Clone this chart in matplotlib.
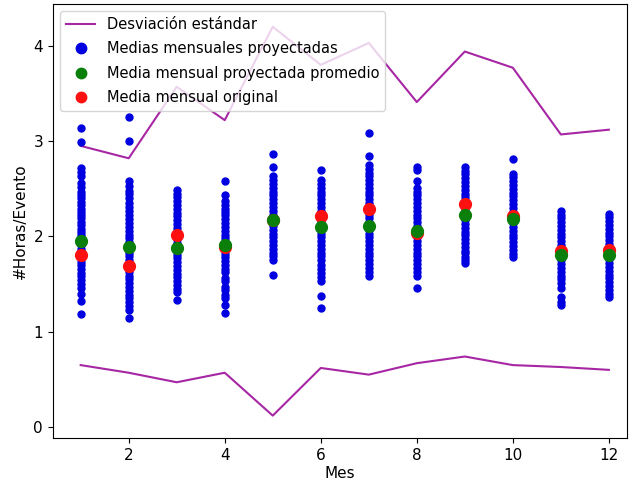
import matplotlib
matplotlib.use('Agg')
import matplotlib.pyplot as plt

meses = list(range(1, 13))

# desviación estándar (banda superior e inferior)
desv_sup = [2.95, 2.82, 3.57, 3.22, 4.20, 3.80, 4.03, 3.41, 3.94, 3.77, 3.07, 3.12]
desv_inf = [0.65, 0.57, 0.47, 0.57, 0.12, 0.62, 0.55, 0.67, 0.74, 0.65, 0.63, 0.60]

media_original = [1.80, 1.69, 2.02, 1.89, 2.17, 2.21, 2.29, 2.04, 2.34, 2.21, 1.85, 1.86]
media_proy_prom = [1.95, 1.89, 1.88, 1.91, 2.17, 2.10, 2.11, 2.06, 2.22, 2.18, 1.80, 1.81]

# medias mensuales proyectadas por cada modelo
proy_ene = [3.14, 2.99, 2.72, 2.68, 2.63, 2.56, 2.52, 2.47, 2.43, 2.40, 2.36, 2.33,
            2.29, 2.26, 2.22, 2.19, 2.15, 2.12, 2.08, 2.05, 2.01, 1.98, 1.94, 1.91,
            1.87, 1.84, 1.80, 1.77, 1.73, 1.70, 1.66, 1.62, 1.58, 1.54, 1.50, 1.46,
            1.40, 1.32, 1.19]
proy_feb = [3.25, 3.00, 2.58, 2.53, 2.48, 2.44, 2.40, 2.35, 2.31, 2.27, 2.22, 2.18,
            2.14, 2.10, 2.06, 2.02, 1.98, 1.94, 1.90, 1.86, 1.83, 1.79, 1.75, 1.71,
            1.67, 1.63, 1.59, 1.55, 1.51, 1.47, 1.43, 1.39, 1.35, 1.31, 1.27, 1.23,
            1.14]
proy_mar = [2.49, 2.45, 2.41, 2.37, 2.33, 2.29, 2.25, 2.21, 2.17, 2.13, 2.09, 2.05,
            2.01, 1.97, 1.93, 1.89, 1.85, 1.81, 1.77, 1.73, 1.69, 1.65, 1.61, 1.57,
            1.53, 1.49, 1.45, 1.42, 1.33]
proy_abr = [2.58, 2.43, 2.37, 2.33, 2.29, 2.26, 2.22, 2.18, 2.14, 2.10, 2.06, 2.02,
            1.98, 1.94, 1.90, 1.86, 1.82, 1.78, 1.74, 1.70, 1.66, 1.63, 1.56, 1.53,
            1.47, 1.44, 1.39, 1.35, 1.28, 1.20]
proy_may = [2.86, 2.73, 2.63, 2.59, 2.55, 2.51, 2.47, 2.43, 2.39, 2.35, 2.31, 2.27,
            2.23, 2.19, 2.15, 2.11, 2.07, 2.03, 1.99, 1.95, 1.91, 1.87, 1.83, 1.79,
            1.75, 1.60]
proy_jun = [2.70, 2.59, 2.55, 2.51, 2.47, 2.43, 2.39, 2.35, 2.31, 2.27, 2.23, 2.19,
            2.15, 2.11, 2.07, 2.03, 1.99, 1.95, 1.91, 1.87, 1.83, 1.79, 1.75, 1.70,
            1.66, 1.62, 1.57, 1.53, 1.37, 1.25]
proy_jul = [3.09, 2.84, 2.75, 2.71, 2.67, 2.63, 2.59, 2.55, 2.51, 2.47, 2.43, 2.39,
            2.35, 2.31, 2.27, 2.23, 2.19, 2.15, 2.11, 2.07, 2.03, 1.99, 1.95, 1.91,
            1.87, 1.83, 1.79, 1.75, 1.71, 1.67, 1.63, 1.59]
proy_ago = [2.73, 2.70, 2.58, 2.51, 2.47, 2.43, 2.39, 2.35, 2.31, 2.27, 2.23, 2.19,
            2.15, 2.11, 2.07, 2.03, 1.99, 1.95, 1.91, 1.87, 1.83, 1.79, 1.75, 1.71,
            1.67, 1.63, 1.58, 1.46]
proy_sep = [2.73, 2.69, 2.65, 2.61, 2.57, 2.53, 2.49, 2.45, 2.41, 2.37, 2.33, 2.29,
            2.25, 2.21, 2.17, 2.13, 2.09, 2.05, 2.01, 1.97, 1.93, 1.89, 1.85, 1.83,
            1.78, 1.75, 1.72]
proy_oct = [2.81, 2.66, 2.62, 2.58, 2.54, 2.50, 2.46, 2.42, 2.38, 2.34, 2.30, 2.26,
            2.22, 2.18, 2.14, 2.10, 2.06, 2.02, 1.98, 1.94, 1.90, 1.86, 1.82, 1.78]
proy_nov = [2.27, 2.23, 2.19, 2.15, 2.11, 2.07, 2.03, 1.99, 1.95, 1.91, 1.87, 1.83,
            1.79, 1.75, 1.71, 1.67, 1.63, 1.59, 1.55, 1.51, 1.46, 1.36, 1.31, 1.28]
proy_dic = [2.24, 2.20, 2.16, 2.12, 2.08, 2.04, 2.00, 1.96, 1.92, 1.88, 1.84, 1.80,
            1.76, 1.72, 1.68, 1.64, 1.60, 1.56, 1.52, 1.48, 1.44, 1.40, 1.36]

proyecciones = [proy_ene, proy_feb, proy_mar, proy_abr, proy_may, proy_jun,
                proy_jul, proy_ago, proy_sep, proy_oct, proy_nov, proy_dic]

color_desv = '#a626a4'

fig = plt.figure(figsize=(6.29, 4.84), dpi=100)
ax = fig.add_axes([0.084, 0.095, 0.913, 0.897])

ax.plot(meses, desv_sup, color=color_desv, lw=1.5, label='Desviación estándar')
ax.plot(meses, desv_inf, color=color_desv, lw=1.5)

xs = []
ys = []
for mes, vals in zip(meses, proyecciones):
    xs += [mes] * len(vals)
    ys += vals
ax.plot(xs, ys, 'o', color='#0000e0', ms=5, ls='none',
        label='Medias mensuales proyectadas', zorder=2)

ax.plot(meses, media_proy_prom, 'o', color='#0a800a', ms=8.5, ls='none',
        label='Media mensual proyectada promedio', zorder=4)
ax.plot(meses, media_original, 'o', color='#ff1010', ms=8.5, ls='none',
        label='Media mensual original', zorder=3)

ax.set_xlim(0.42, 12.38)
ax.set_ylim(-0.115, 4.44)
ax.set_xticks([2, 4, 6, 8, 10, 12])
ax.set_yticks([0, 1, 2, 3, 4])
ax.tick_params(labelsize=11)
ax.set_xlabel('Mes', fontsize=11, labelpad=2)
ax.set_ylabel('#Horas/Evento', fontsize=11, labelpad=4)

leg = ax.legend(loc='upper left', fontsize=10.5, labelspacing=0.65,
                borderaxespad=0.5)
for h in leg.legend_handles[1:]:
    h.set_markersize(7.5)

fig.savefig('out.png', dpi=100)
